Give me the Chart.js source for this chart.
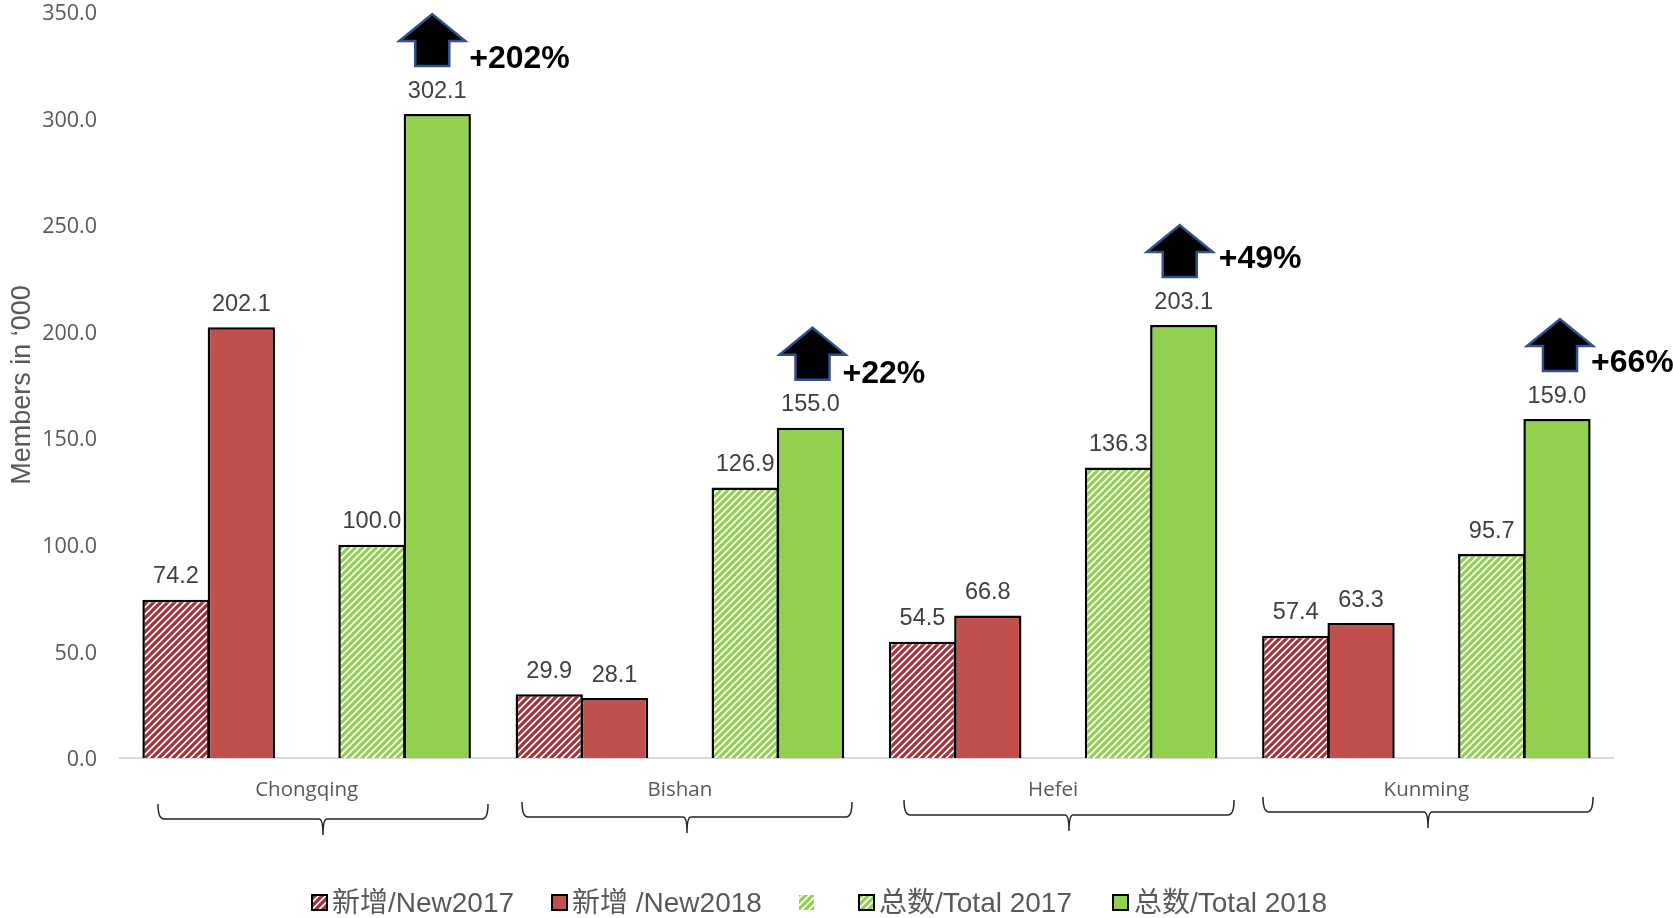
<!DOCTYPE html>
<html>
<head>
<meta charset="utf-8">
<script src="https://cdn.jsdelivr.net/npm/chart.js@4/dist/chart.umd.min.js"></script>
<style>
  html, body { margin: 0; padding: 0; background: #fff; }
  #wrap { width: 1673px; height: 918px; }
</style>
</head>
<body>
<div id="wrap"><canvas id="myChart" width="1673" height="918"></canvas></div>
<script>
// data
var cities = ['Chongqing', 'Bishan', 'Hefei', 'Kunming'];
var new2017 = [74.2, 29.9, 54.5, 57.4];
var new2018 = [202.1, 28.1, 66.8, 63.3];
var blankSeries = [null, null, null, null];
var total2017 = [100.0, 126.9, 136.3, 95.7];
var total2018 = [302.1, 155.0, 203.1, 159.0];
var growthLabels = ['+202%', '+22%', '+49%', '+66%'];

var seriesNames = ['新增/New2017', '新增 /New2018', '', '总数/Total 2017', '总数/Total 2018'];

var RED = '#C0504D', GREEN = '#92D050', HATCH_RED = '#A5323A';

// diagonal stripes, like the office pattern fill
function hatch(color) {
  var c = document.createElement('canvas');
  c.width = 7; c.height = 7;
  var g = c.getContext('2d');
  g.fillStyle = '#fff';
  g.fillRect(0, 0, 7, 7);
  g.strokeStyle = color;
  g.lineWidth = 3.2;
  g.beginPath();
  g.moveTo(-2, 2); g.lineTo(2, -2);
  g.moveTo(-2, 9); g.lineTo(9, -2);
  g.moveTo(5, 9); g.lineTo(9, 5);
  g.stroke();
  return g.createPattern(c, 'repeat');
}
var redHatch = hatch(HATCH_RED), greenHatch = hatch(GREEN);

function fmt(v) { return v.toFixed(1); }

// value labels over the bars
var valueLabels = {
  id: 'valueLabels',
  afterDatasetsDraw: function (chart) {
    var ctx = chart.ctx;
    ctx.save();
    ctx.font = '23.5px "Liberation Sans"';
    ctx.fillStyle = '#404040';
    ctx.textAlign = 'center';
    ctx.textBaseline = 'middle';
    chart.data.datasets.forEach(function (ds, i) {
      chart.getDatasetMeta(i).data.forEach(function (bar, j) {
        if (ds.data[j] == null) return;
        ctx.fillText(fmt(ds.data[j]), bar.x, bar.y - 23);
      });
    });
    ctx.restore();
  }
};

// arrows and +x% callouts, placed relative to the 2018 total bars
var arrowShift = [-5, 2, -4, 3];
var growthShift = [37, 30, 39, 31];
var growthRise = [55, 53, 66, 56];

var callouts = {
  id: 'callouts',
  afterDatasetsDraw: function (chart) {
    var ctx = chart.ctx;
    var bars = chart.getDatasetMeta(4).data;
    ctx.save();
    bars.forEach(function (bar, i) {
      var x = bar.x + arrowShift[i], top = bar.y;
      ctx.beginPath();
      ctx.moveTo(x, top - 100);
      ctx.lineTo(x + 33, top - 73);
      ctx.lineTo(x + 17, top - 73);
      ctx.lineTo(x + 17, top - 48);
      ctx.lineTo(x - 17, top - 48);
      ctx.lineTo(x - 17, top - 73);
      ctx.lineTo(x - 33, top - 73);
      ctx.closePath();
      ctx.fillStyle = '#000';
      ctx.fill();
      ctx.lineWidth = 2.5;
      ctx.strokeStyle = '#2F528F';
      ctx.stroke();

      ctx.font = 'bold 32px "Liberation Sans"';
      ctx.fillStyle = '#000';
      ctx.textAlign = 'left';
      ctx.textBaseline = 'middle';
      ctx.fillText(growthLabels[i], x + growthShift[i], top - growthRise[i]);
    });
    ctx.restore();
  }
};

// curly braces under the city names
var braceLeft = [158, 522, 904, 1263];
var braceLine = [819, 817, 815, 812];
var BRACE_W = 330;

var braces = {
  id: 'braces',
  afterDraw: function (chart) {
    var ctx = chart.ctx;
    ctx.save();
    ctx.strokeStyle = '#262626';
    ctx.lineWidth = 1.5;
    braceLeft.forEach(function (l, i) {
      var y = braceLine[i], r = l + BRACE_W, m = l + BRACE_W / 2;
      ctx.beginPath();
      ctx.moveTo(l, y - 15);
      ctx.quadraticCurveTo(l, y, l + 6, y);
      ctx.lineTo(m - 4, y);
      ctx.quadraticCurveTo(m, y, m, y + 16);
      ctx.quadraticCurveTo(m, y, m + 4, y);
      ctx.lineTo(r - 6, y);
      ctx.quadraticCurveTo(r, y, r, y - 15);
      ctx.stroke();
    });
    ctx.restore();
  }
};

// legend by hand, the built in one can't get the text this close to the box
var swatchX = [312, 552, 799, 859, 1113];
var legendTextX = [332, 572, 0, 879, 1134];

var bottomLegend = {
  id: 'bottomLegend',
  afterDraw: function (chart) {
    var ctx = chart.ctx;
    ctx.save();
    ctx.font = '28px "Liberation Sans", "Noto Sans CJK SC"';
    ctx.textAlign = 'left';
    ctx.textBaseline = 'middle';
    chart.data.datasets.forEach(function (ds, i) {
      ctx.fillStyle = ds.backgroundColor;
      ctx.fillRect(swatchX[i], 895, 15, 15);
      if (ds.borderWidth) {
        ctx.lineWidth = 2;
        ctx.strokeStyle = '#000';
        ctx.strokeRect(swatchX[i], 895, 15, 15);
      }
      if (seriesNames[i]) {
        ctx.fillStyle = '#595959';
        ctx.fillText(seriesNames[i], legendTextX[i], 904);
      }
    });
    ctx.restore();
  }
};

var ctx = document.getElementById('myChart').getContext('2d');
var myChart = new Chart(ctx, {
  type: 'bar',
  data: {
    labels: cities,
    datasets: [
      { label: seriesNames[0], data: new2017, backgroundColor: redHatch, borderColor: '#000', borderWidth: 2.5 },
      { label: seriesNames[1], data: new2018, backgroundColor: RED, borderColor: '#000', borderWidth: 2.5 },
      { label: seriesNames[2], data: blankSeries, backgroundColor: greenHatch, borderColor: 'rgba(0,0,0,0)', borderWidth: 0 },
      { label: seriesNames[3], data: total2017, backgroundColor: greenHatch, borderColor: '#000', borderWidth: 2.5 },
      { label: seriesNames[4], data: total2018, backgroundColor: GREEN, borderColor: '#000', borderWidth: 2.5 }
    ]
  },
  plugins: [valueLabels, callouts, braces, bottomLegend],
  options: {
    responsive: false,
    animation: false,
    barPercentage: 1.03,
    categoryPercentage: 0.875,
    layout: { autoPadding: false, padding: { top: 12, right: 60, left: 0, bottom: 0 } },
    plugins: {
      tooltip: { enabled: false },
      legend: { display: false }
    },
    scales: {
      x: {
        grid: { display: false },
        border: { color: '#D9D9D9', width: 2 },
        ticks: {
          padding: 12,
          color: '#595959',
          maxRotation: 0,
          font: { family: '"Open Sans"', size: 20.5 }
        },
        afterFit: function (s) { s.height = 160; }
      },
      y: {
        min: 0,
        max: 350,
        grid: { display: false },
        border: { display: false },
        title: {
          display: true,
          text: 'Members in ‘000',
          color: '#595959',
          padding: { top: 6, bottom: 0 },
          font: { family: '"Liberation Sans"', size: 27 }
        },
        ticks: {
          stepSize: 50,
          padding: 15,
          labelOffset: 2,
          color: '#595959',
          font: { family: '"Open Sans"', size: 21.5 },
          callback: function (v) { return fmt(v); }
        },
        afterFit: function (s) { s.width = 120; s.paddingTop = 0; s.paddingBottom = 0; }
      }
    }
  }
});
</script>
</body>
</html>
